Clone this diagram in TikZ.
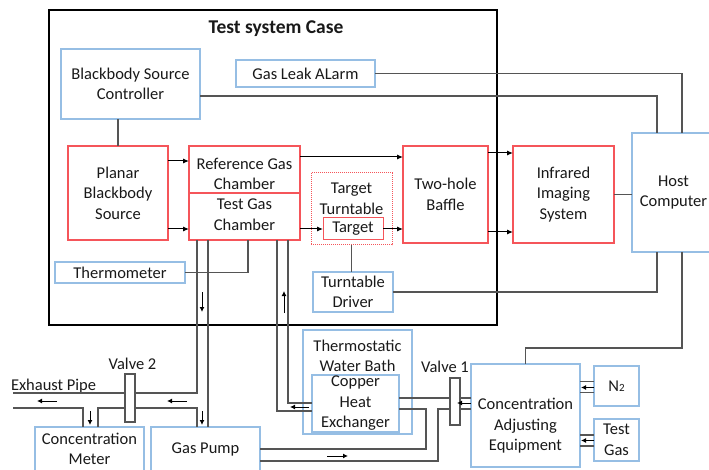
\documentclass[tikz,border=0pt]{standalone}
\usepackage{fontspec}
\setmainfont{Carlito}
\usetikzlibrary{calc,arrows.meta}
\definecolor{boxblue}{RGB}{150,190,228}
\definecolor{boxred}{RGB}{245,85,90}
\definecolor{wirecol}{RGB}{85,85,85}
\begin{document}
\begin{tikzpicture}[x=1pt,y=-1pt,
  every node/.style={font=\fontsize{16.5}{20.5}\selectfont, align=center, inner sep=0pt, outer sep=0pt, text=black!90},
  bluebox/.style={draw=boxblue, line width=1.2pt, fill=white},
  redbox/.style={draw=boxred, line width=1.3pt, fill=white},
  wire/.style={draw=wirecol, line width=1.2pt},
  pipe/.style={draw=wirecol, line width=1.2pt},
  arr/.style={draw=black, line width=1pt, -{Latex[length=6pt,width=5pt]}},
  flow/.style={draw=black, line width=1pt, -{Latex[length=5pt,width=5pt]}},
  valvebox/.style={draw=wirecol, line width=1.1pt, fill=white},
]
\useasboundingbox (0,0) rectangle (709,470);

% enclosure of the test system
\node[draw=black, line width=2.2pt, minimum width=448pt, minimum height=315pt] (case) at (273,167.5) {};
\node[font=\fontsize{19.5}{22}\selectfont\bfseries] (title) at (276,29) {Test system Case};

% control and instrument blocks
\node[bluebox, minimum width=139pt, minimum height=70pt] (bsc) at (130.5,84) {Blackbody Source\\Controller};
\node[bluebox, minimum width=139pt, minimum height=27pt] (gla) at (305.5,73.5) {Gas Leak ALarm};
\node[redbox, minimum width=100pt, minimum height=94pt] (pbs) at (118,193) {Planar\\Blackbody\\Source};
\node[redbox, minimum width=111pt, minimum height=47pt] (ref) at (244.5,169.5) {};
\node (reflabel) at (244.5,174) {Reference Gas\\Chamber};
\node[redbox, minimum width=111pt, minimum height=47pt] (test) at (244.5,216.5) {};
\node (testlabel) at (244.5,214.5) {Test Gas\\Chamber};
\node[draw=boxred, densely dotted, line width=1pt, minimum width=81pt, minimum height=72pt] (tt) at (351.5,209) {};
\node (ttlabel) at (351.5,199) {Target\\Turntable};
\node[draw=boxred, line width=1pt, fill=white, minimum width=60pt, minimum height=22pt] (tgt) at (353,229) {Target};
\node[redbox, minimum width=85pt, minimum height=97pt] (baffle) at (445.5,194.5) {Two-hole\\Baffle};
\node[redbox, minimum width=101pt, minimum height=97pt] (irs) at (563.5,194.5) {Infrared\\Imaging\\System};
\node[bluebox, minimum width=80pt, minimum height=119pt] (host) at (672,192.5) {};
\node (hostlabel) at (673.5,192.5) {Host\\Computer};
\node[bluebox, minimum width=130pt, minimum height=21pt] (therm) at (120,272.5) {Thermometer};
\node[bluebox, minimum width=80pt, minimum height=40pt] (td) at (353,292) {Turntable\\Driver};

% gas handling blocks
\node[draw=boxblue, line width=1.2pt, minimum width=109pt, minimum height=104pt] (twb) at (357.5,382) {};
\node (twblabel) at (357.5,356) {Thermostatic\\Water Bath};
\node[bluebox, minimum width=87pt, minimum height=57pt] (che) at (355.5,403.5) {Copper\\Heat\\Exchanger};
\node[bluebox, minimum width=109pt, minimum height=103pt] (cae) at (525.5,415.5) {};
\node (caelabel) at (525.5,426) {Concentration\\Adjusting\\Equipment};
\node[bluebox, minimum width=45pt, minimum height=40pt] (n2) at (616.5,386) {N{\fontsize{11}{11}\selectfont 2}};
\node[bluebox, minimum width=45pt, minimum height=42pt] (tgas) at (616.5,440) {Test\\Gas};
\node[bluebox, minimum width=109pt, minimum height=44pt] (meter) at (89.5,449) {Concentration\\Meter};
\node[bluebox, minimum width=109pt, minimum height=44pt] (pump) at (205.5,449) {Gas Pump};
\node[anchor=west] (exlabel) at (11,386) {Exhaust Pipe};
\node (v2label) at (132.5,364) {Valve 2};
\node (v1label) at (445,367) {Valve 1};

% signal and optical paths
\draw[wire] (pbs.north) -- (pbs.north |- bsc.south);
\coordinate (h1) at ($(host.north)+(-15,0)$);
\coordinate (h2) at ($(host.north)+(10,0)$);
\draw[wire] ($(bsc.east)+(0,12)$) -| (h1);
\draw[wire] (gla.east) -| (h2);
\coordinate (r1) at ($(pbs.east)+(0,-32)$);
\coordinate (r2) at ($(pbs.east)+(0,36)$);
\draw[arr] (r1) -- (r1 -| ref.west);
\draw[arr] (r2) -- (r2 -| test.west);
\coordinate (r3) at ($(ref.east)+(0,-12.5)$);
\draw[arr] (r3) -- (r3 -| baffle.west);
\draw[arr] (tgt.west -| test.east) -- (tgt.west);
\draw[arr] (tgt.east) -- (tgt.east -| baffle.west);
\coordinate (b1) at ($(baffle.east)+(0,-41.5)$);
\coordinate (b2) at ($(baffle.east)+(0,37.5)$);
\draw[arr] (b1) -- (b1 -| irs.west);
\draw[arr] (b2) -- (b2 -| irs.west);
\draw[wire] (irs.east) -- (irs.east -| host.west);
\draw[wire] (tt.south) -- (tt.south |- td.north);
\draw[wire] (td.east) -| ($(host.south)+(-15,0)$);
\draw[wire] ($(host.south)+(10,0)$) |- ($(cae.north)+(0,-16)$) -- (cae.north);
\draw[wire] (therm.east) -| ($(test.south)+(3.5,0)$);

% gas lines below the chambers
\coordinate (pa) at ($(test.south west)+(8,0)$);
\coordinate (pb) at ($(test.south west)+(19,0)$);
\coordinate (ex1) at (13,393);
\coordinate (ex2) at (13,408);
\draw[pipe] (pa) |- (ex1);
\draw[pipe] (pb) -- (pb |- pump.north);
\draw[pipe] (ex2) -| ($(meter.north west)+(48,0)$);
\draw[pipe] ($(meter.north west)+(63,0)$) |- ($(pa)+(0,168)$) -- (pa |- pump.north);
\coordinate (pc) at ($(test.south east)+(-23,0)$);
\coordinate (pd) at ($(test.south east)+(-12,0)$);
\draw[pipe] (pd) |- ($(che.west)+(0,-0.5)$);
\draw[pipe] (pc) |- ($(che.west)+(0,7.5)$);
\coordinate (c1) at ($(che.east)+(0,-5.5)$);
\coordinate (c2) at ($(che.east)+(0,5.5)$);
\coordinate (c3) at ($(pump.east)+(0,12)$);
\draw[pipe] (c1) -- (c1 -| cae.west);
\draw[pipe] (c2) -- ++(27,0) |- (pump.east);
\draw[pipe] (c3) -- ++(178,0) |- (c2 -| cae.west);
\draw[pipe] ($(n2.west)+(0,-4.5)$) -- ($(n2.west -| cae.east)+(0,-4.5)$);
\draw[pipe] ($(n2.west)+(0,6.5)$) -- ($(n2.west -| cae.east)+(0,6.5)$);
\draw[pipe] ($(tgas.west)+(0,-5)$) -- ($(tgas.west -| cae.east)+(0,-5)$);
\draw[pipe] ($(tgas.west)+(0,6)$) -- ($(tgas.west -| cae.east)+(0,6)$);

% valves
\node[valvebox, minimum width=10pt, minimum height=48pt] (valve2) at (130,398) {};
\node[valvebox, minimum width=10pt, minimum height=47pt] (valve1) at (455,401.5) {};

% flow directions
\draw[flow] (202,292) -- (202,312);
\draw[flow] (90,411) -- (90,425);
\draw[flow] (202,411) -- (202,425);
\draw[flow] (57,401) -- (37,401);
\draw[flow] (187,401) -- (167,401);
\draw[flow] (284,313) -- (284,291);
\draw[flow] (309,407) -- (290,407);
\draw[flow] (327,456) -- (348,456);
\draw[flow] (471,403) -- (457,403);
\draw[flow] (594,387.5) -- (581,387.5);
\draw[flow] (594,440.5) -- (581,440.5);
\end{tikzpicture}
\end{document}
